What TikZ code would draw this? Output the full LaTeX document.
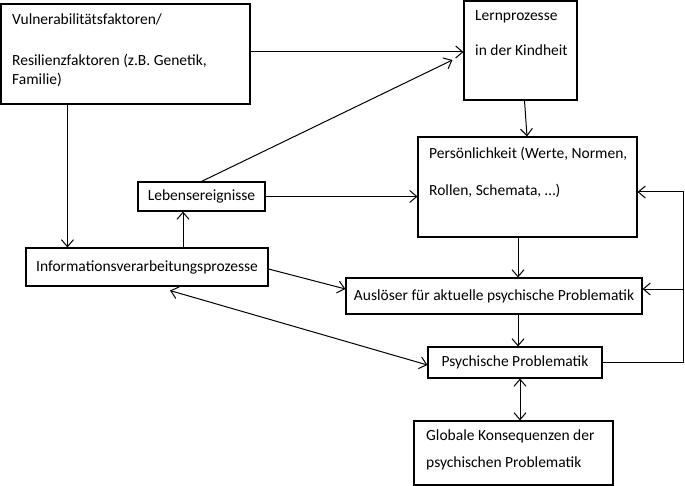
\documentclass[tikz,border=0pt]{standalone}
\usepackage{fontspec}
\setmainfont{Carlito}
\usetikzlibrary{arrows.meta,calc}
\begin{document}
\begin{tikzpicture}[x=1pt,y=-1pt,
  box/.style={draw,line width=1.1pt,rectangle,inner sep=0pt,font={\fontsize{15.5}{18}\selectfont}},
  txt/.style={inner sep=0pt,align=left,anchor=base west,font={\fontsize{15.5}{18}\selectfont}},
  arr/.style={line width=1pt,-{Straight Barb[length=7pt,width=12pt]}},
  darr/.style={line width=1pt,{Straight Barb[length=7pt,width=12pt]}-{Straight Barb[length=7pt,width=12pt]}}]
\useasboundingbox (0,0) rectangle (685,486);
% boxes
\node[box,minimum width=249pt,minimum height=100pt] (vul) at (125.5,54) {};
\node[box,minimum width=113pt,minimum height=99pt] (lern) at (520.5,50.5) {};
\node[box,minimum width=219pt,minimum height=100pt] (pers) at (527.5,187) {};
\node[box,minimum width=127pt,minimum height=29pt] (leben) at (201.5,196.5) {Lebensereignisse};
\node[box,minimum width=242pt,minimum height=38pt] (info) at (147,267) {Informationsverarbeitungsprozesse};
\node[box,minimum width=296pt,minimum height=36pt] (ausl) at (494,296) {Auslöser für aktuelle psychische Problematik};
\node[box,minimum width=174pt,minimum height=31pt] (psych) at (515,362.5) {Psychische Problematik};
\node[box,minimum width=199pt,minimum height=64pt] (glob) at (513.5,453) {};
% multi-line texts (anchored at the baseline of the last line)
\node[txt] (vultxt) at (12,85) {Vulnerabilitätsfaktoren/\\[23pt]Resilienzfaktoren (z.B. Genetik,\\[1pt]Familie)};
\node[txt] (lerntxt) at (475,56) {Lernprozesse\\[17pt]in der Kindheit};
\node[txt] (perstxt) at (429,196) {Persönlichkeit (Werte, Normen,\\[19pt]Rollen, Schemata, …)};
\node[txt] (globtxt) at (426,467) {Globale Konsequenzen der\\[9pt]psychischen Problematik};
% helper coordinates
\coordinate (vulS) at ([xshift=67pt]vul.south west);
\coordinate (vulE) at ([yshift=2pt]vul.east);
\coordinate (lernIn) at ([xshift=-11pt,yshift=-9.5pt]lern.west);
\coordinate (lebS) at ([xshift=-18.5pt]leben.south);
\coordinate (lernS) at ([xshift=4pt]lern.south);
\coordinate (persN) at ([xshift=-0.5pt]pers.north);
\coordinate (persS) at ([xshift=-9.5pt]pers.south);
\coordinate (auslS) at ([xshift=24pt]ausl.south);
\coordinate (psychS) at ([xshift=5pt]psych.south);
\coordinate (fb) at ([xshift=81pt]psych.east);
\coordinate (persIn) at ([yshift=-5pt]pers.east);
\coordinate (auslIn) at ([yshift=7pt]ausl.east);
% connectors
\draw[arr] (vulS) -- (vulS |- info.north);
\draw[arr] (vulE) -- (vulE -| lern.west);
\draw[arr] (leben.north) -- (lernIn);
\draw[arr] (leben.east) -- (leben.east -| pers.west);
\draw[arr] (lernS) -- (persN);
\draw[arr] (lebS |- info.north) -- (lebS);
\draw[arr] ([yshift=-2pt]info.east) -- ([yshift=7pt]ausl.west);
\draw[darr] ([xshift=23pt,yshift=-4pt]info.south) -- ([yshift=-2.5pt]psych.west);
\draw[arr] (persS) -- (persS |- ausl.north);
\draw[arr] (auslS) -- (auslS |- psych.north);
\draw[darr] (psychS) -- (psychS |- glob.north);
\draw[arr] (psych.east) -- (fb) -- (fb |- persIn) -- (persIn);
\draw[arr] (fb |- auslIn) -- (auslIn);
\end{tikzpicture}
\end{document}
